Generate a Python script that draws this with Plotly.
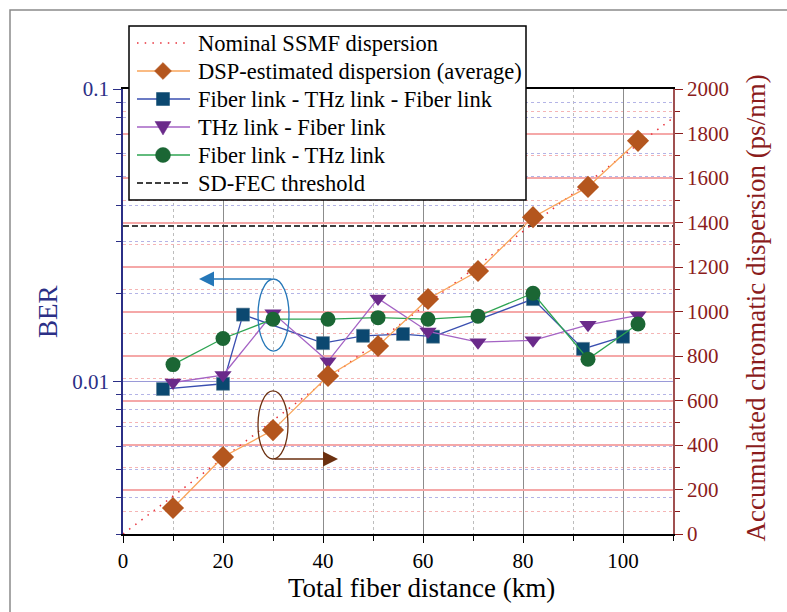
import numpy as np
import plotly.graph_objects as go

# ---- data ----
nominal_x = [0, 110]
nominal_cd = [0, 1870]

dsp_x = [10, 20, 30, 41, 51, 61, 71, 82, 93, 103]
dsp_cd = [117, 346, 467, 710, 845, 1056, 1182, 1424, 1560, 1767]

ftf_x = [8, 20, 24, 40, 48, 56, 62, 82, 92, 100]
ftf_ber = [0.0094, 0.0098, 0.0169, 0.0135, 0.0143, 0.0145, 0.0142, 0.0191, 0.0129, 0.0142]

tf_x = [10, 20, 30, 41, 51, 61, 71, 82, 93, 103]
tf_ber = [0.0099, 0.0105, 0.0171, 0.0117, 0.0192, 0.0148, 0.0136, 0.0138, 0.0156, 0.0168]

ft_x = [10, 20, 30, 41, 51, 61, 71, 82, 93, 103]
ft_ber = [0.0114, 0.0140, 0.0163, 0.0163, 0.0165, 0.0163, 0.0167, 0.0200, 0.0119, 0.0157]

fec_x = [0, 110]
fec_ber = [0.034, 0.034]

x_ticks = [0, 20, 40, 60, 80, 100]
ber_ticks = [0.01, 0.1]
ber_tick_text = ["0.01", "0.1"]
ber_minor = [0.003, 0.004, 0.005, 0.006, 0.007, 0.008, 0.009,
             0.02, 0.03, 0.04, 0.05, 0.06, 0.07, 0.08, 0.09]

series_names = ["Nominal SSMF dispersion", "DSP-estimated dispersion (average)",
                "Fiber link - THz link - Fiber link", "THz link - Fiber link",
                "Fiber link - THz link", "SD-FEC threshold"]

FONT = "Liberation Serif, Times New Roman, Times, DejaVu Serif, serif"
NAVY = "#2b2f86"
DRED = "#8b1c1c"
DOT = "1.5px,6.2px"
DASH = "6px,3px"

STY = {
    "nominal": dict(line="#e8303a", dash=DOT, width=1.5, marker=None),
    "dsp": dict(line="#f9a55a", dash="solid", width=1.3, marker=("diamond", "#b4561e")),
    "ftf": dict(line="#3a4fb0", dash="solid", width=1.3, marker=("square", "#0b4870")),
    "tf": dict(line="#a463c4", dash="solid", width=1.3, marker=("triangle-down", "#6a2a8a")),
    "ft": dict(line="#2ea452", dash="solid", width=1.3, marker=("circle", "#1b6634")),
    "fec": dict(line="black", dash=DASH, width=1.5, marker=None),
}
SIZES = {"diamond": 17, "square": 13, "triangle-down": 16, "circle": 15}

fig = go.Figure()

fig.add_trace(go.Scatter(x=nominal_x, y=nominal_cd, yaxis="y2", mode="lines",
                         name=series_names[0],
                         line=dict(color=STY["nominal"]["line"], width=1.5, dash=DOT)))
fig.add_trace(go.Scatter(x=dsp_x, y=dsp_cd, yaxis="y2", mode="lines+markers",
                         name=series_names[1],
                         line=dict(color=STY["dsp"]["line"], width=1.3),
                         marker=dict(symbol="diamond", size=17, color="#b4561e")))
fig.add_trace(go.Scatter(x=ftf_x, y=ftf_ber, mode="lines+markers",
                         name=series_names[2],
                         line=dict(color=STY["ftf"]["line"], width=1.3),
                         marker=dict(symbol="square", size=13, color="#0b4870",
                                     line=dict(color="#5a7d96", width=0.6))))
fig.add_trace(go.Scatter(x=tf_x, y=tf_ber, mode="lines+markers",
                         name=series_names[3],
                         line=dict(color=STY["tf"]["line"], width=1.3),
                         marker=dict(symbol="triangle-down", size=15, color="#6a2a8a")))
fig.add_trace(go.Scatter(x=ft_x, y=ft_ber, mode="lines+markers",
                         name=series_names[4],
                         line=dict(color=STY["ft"]["line"], width=1.3),
                         marker=dict(symbol="circle", size=15, color="#1b6634")))
fig.add_trace(go.Scatter(x=fec_x, y=fec_ber, mode="lines",
                         name=series_names[5],
                         line=dict(color="black", width=1.5, dash=DASH)))

# ellipses and arrows
fig.add_shape(type="circle", xref="x", yref="y2", x0=27, x1=33.2, y0=822, y1=1146,
              line=dict(color="#2577b8", width=1.3))
fig.add_shape(type="circle", xref="x", yref="y2", x0=27, x1=33, y0=337, y1=643,
              line=dict(color="#6b3010", width=1.3))
fig.add_annotation(x=15.2, y=1146, ax=30, ay=1146, xref="x", yref="y2",
                   axref="x", ayref="y2", text="", showarrow=True,
                   arrowhead=2, arrowsize=2, arrowwidth=1.5, arrowcolor="#2577b8")
fig.add_annotation(x=43, y=337, ax=30, ay=337, xref="x", yref="y2",
                   axref="x", ayref="y2", text="", showarrow=True,
                   arrowhead=2, arrowsize=2, arrowwidth=1.5, arrowcolor="#6b3010")

# ---- pixel -> paper helpers (plot area: x 123..673, y 89..534) ----
def PX(px):
    return (px - 123) / 550


def PY(py):
    return (534 - py) / 445


# outer frame
fig.add_shape(type="rect", xref="paper", yref="paper",
              x0=PX(10), x1=PX(800), y0=PY(620), y1=PY(10),
              line=dict(color="#8a8a8a", width=1.5), layer="below")

# ---- custom legend ----
fig.add_shape(type="rect", xref="paper", yref="paper", layer="above",
              x0=PX(129), x1=PX(526), y0=PY(200), y1=PY(26),
              fillcolor="white", line=dict(color="black", width=1.5))
row_y = [43, 71, 99, 127, 155, 183]
keys = ["nominal", "dsp", "ftf", "tf", "ft", "fec"]
for name, key, ry in zip(series_names, keys, row_y):
    st = STY[key]
    fig.add_shape(type="line", xref="paper", yref="paper", layer="above",
                  x0=PX(137), x1=PX(190), y0=PY(ry), y1=PY(ry),
                  line=dict(color=st["line"], width=st["width"], dash=st["dash"]))
    if st["marker"]:
        sym, col = st["marker"]
        cx, cy = 163, ry
        if sym == "circle":
            r = SIZES[sym] / 2
            fig.add_shape(type="circle", xref="paper", yref="paper", layer="above",
                          x0=PX(cx - r), x1=PX(cx + r), y0=PY(cy + r), y1=PY(cy - r),
                          fillcolor=col, line=dict(color=col, width=0.5))
        else:
            if sym == "diamond":
                h = SIZES[sym] / 2
                pts = [(cx, cy - h), (cx + h, cy), (cx, cy + h), (cx - h, cy)]
            elif sym == "square":
                h = SIZES[sym] / 2
                pts = [(cx - h, cy - h), (cx + h, cy - h), (cx + h, cy + h), (cx - h, cy + h)]
            else:
                w = SIZES[sym] / 2
                pts = [(cx - w, cy - 5.5), (cx + w, cy - 5.5), (cx, cy + 8)]
            path = "M " + " L ".join(f"{PX(a):.5f},{PY(b):.5f}" for a, b in pts) + " Z"
            fig.add_shape(type="path", xref="paper", yref="paper", layer="above",
                          path=path, fillcolor=col, line=dict(color=col, width=0.5))
    fig.add_annotation(x=PX(196), y=PY(ry), xref="paper", yref="paper",
                       xanchor="left", yanchor="middle", showarrow=False,
                       text=name, font=dict(family=FONT, size=22.5, color="black"))

# axis titles
fig.add_annotation(x=PX(421), y=PY(588), xref="paper", yref="paper",
                   xanchor="center", yanchor="middle", showarrow=False,
                   text="Total fiber distance (km)",
                   font=dict(family=FONT, size=27, color="black"))
fig.add_annotation(x=PX(48), y=PY(312), xref="paper", yref="paper",
                   xanchor="center", yanchor="middle", showarrow=False, textangle=-90,
                   text="BER", font=dict(family=FONT, size=27, color=NAVY))
fig.add_annotation(x=PX(755), y=PY(308.5), xref="paper", yref="paper",
                   xanchor="center", yanchor="middle", showarrow=False, textangle=-90,
                   text="Accumulated chromatic dispersion (ps/nm)",
                   font=dict(family=FONT, size=27, color=DRED))

fig.update_layout(
    width=787, height=612,
    margin=dict(l=123, r=114, t=89, b=78),
    paper_bgcolor="white", plot_bgcolor="white",
    font=dict(family=FONT, size=21, color="black"),
    showlegend=False,
    xaxis=dict(range=[0, 110], tickvals=x_ticks, ticks="outside", ticklen=7,
               tickcolor="black", linecolor="black", linewidth=1.5, mirror=True,
               showgrid=True, gridcolor="#8c8c8c", gridwidth=1,
               minor=dict(dtick=10, tick0=0, ticks="outside", ticklen=5, tickcolor="black",
                          showgrid=True, gridcolor="#bdbdbd", griddash="dot", gridwidth=1),
               zeroline=False, automargin=False),
    yaxis=dict(type="log", range=[np.log10(0.003), -1], tickvals=ber_ticks,
               ticktext=ber_tick_text, ticks="outside", ticklen=8, tickcolor=NAVY,
               tickfont=dict(color=NAVY), linecolor=NAVY, linewidth=1.5,
               showgrid=True, gridcolor="#9a9ad8", gridwidth=1,
               minor=dict(tickvals=ber_minor, ticks="outside", ticklen=5, tickcolor=NAVY,
                          showgrid=True, gridcolor="#b4b4e6", griddash="dot", gridwidth=1),
               zeroline=False, automargin=False),
    yaxis2=dict(overlaying="y", side="right", range=[0, 2000], dtick=200, tick0=0,
                ticks="outside", ticklen=8, tickcolor=DRED, tickfont=dict(color=DRED),
                linecolor="#a05050", linewidth=1.5,
                showgrid=True, gridcolor="#f5a8a8", gridwidth=1.5,
                minor=dict(dtick=100, tick0=0, ticks="outside", ticklen=5, tickcolor=DRED,
                           showgrid=True, gridcolor="#f5b5b5", griddash="dot", gridwidth=1),
                zeroline=False, automargin=False),
)

fig.write_html("out.html", config={"displayModeBar": False},
               post_script="document.body.style.margin='0';")
